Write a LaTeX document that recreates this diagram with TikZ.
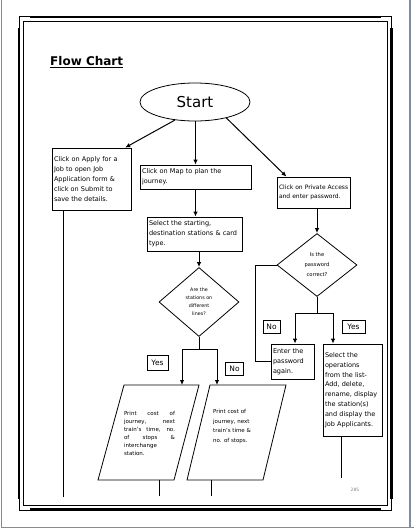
\documentclass[tikz,border=0pt]{standalone}
\usepackage{fontspec}
\setmainfont{DejaVu Sans}
\usetikzlibrary{shapes.geometric,arrows.meta,positioning}

\begin{document}
\begin{tikzpicture}[x=1pt, y=-1pt,
    box/.style={draw, line width=0.8pt, align=left, inner sep=2pt, font=\fontsize{6.5}{9.8}\selectfont},
    decision/.style={draw, diamond, line width=0.8pt, inner sep=0pt, align=center},
    iotext/.style={align=left, inner sep=0pt, font=\fontsize{5.5}{8}\selectfont},
    iobox/.style={draw, line width=0.8pt},
    tag/.style={draw, line width=0.8pt, inner sep=1pt, font=\fontsize{7.5}{9}\selectfont},
    arr/.style={line width=1pt, -{Latex[length=5pt,width=4.5pt]}},
    link/.style={line width=1pt}]
    \useasboundingbox (0,0) rectangle (414,529);

    % Screen edges
    \draw[line width=1.5pt, color={rgb,255:red,128;green,140;blue,156}] (1.5,0) -- (1.5,527.5) -- (414,527.5);
    \draw[line width=1.5pt, color={rgb,255:red,128;green,140;blue,156}] (410,0) -- (410,527.5);

    % Page border
    \draw[line width=2.8pt] (30,17) -- (381,17);
    \draw[line width=2.8pt] (30,509.5) -- (381,509.5);
    \draw[line width=2.8pt] (19,28) -- (19,499);
    \draw[line width=2.8pt] (391.5,28) -- (391.5,499);
    \draw[line width=0.6pt] (23.5,21) rectangle (387.5,505);
    \draw[line width=0.6pt] (19.5,28) -- (19.5,16.5) -- (30,16.5);
    \draw[line width=0.6pt] (381,16.5) -- (391,16.5) -- (391,28);
    \draw[line width=0.6pt] (19.5,499) -- (19.5,510) -- (30,510);
    \draw[line width=0.6pt] (381,510) -- (391,510) -- (391,499);

    % Title
    \node[anchor=base west, inner sep=0pt, font=\bfseries\fontsize{12}{14}\selectfont] (title) at (50,66) {\underline{Flow Chart}};

    % Nodes
    \node[ellipse, draw, line width=0.8pt, minimum width=110pt, minimum height=38pt, inner sep=0pt,
        font=\fontsize{15}{18}\selectfont] (start) at (195,102) {Start};

    \node[box, text width=75pt, minimum height=62pt] (apply) at (91.5,179)
        {Click on Apply for a\\Job to open Job\\Application form \&\\click on Submit to\\save the details.};
    \node[box, text width=107pt, minimum height=24pt] (map) at (195.5,177)
        {Click on Map to plan the\\journey.};
    \node[box, text width=91pt, minimum height=34pt] (sel) at (194.5,234)
        {Select the starting,\\destination stations \& card\\type.};
    \node[decision, minimum width=80pt, minimum height=69pt, font=\fontsize{4.8}{8}\selectfont] (lines) at (199,302)
        {Are the\\stations on\\different\\lines?};

    \node[tag, minimum width=21pt, minimum height=15pt] (yes1) at (157.5,362.5) {Yes};
    \node[tag, minimum width=18pt, minimum height=13pt] (no1) at (234.5,368.5) {No};

    % Print outputs
    \draw[iobox] (124,385) coordinate (p1nw) -- (199,385) -- (174,480) coordinate (p1se) -- (98,480) -- cycle;
    \draw[iobox] (210,385) coordinate (p2nw) -- (286,385) -- (263,480) coordinate (p2se) -- (187,480) -- cycle;
    \node[iotext] (print1) at (149.5,433)
        {\makebox[51pt][s]{Print cost of}\\\makebox[51pt][s]{journey, next}\\\makebox[51pt][s]{train's time, no.}\\
         \makebox[51pt][s]{of stops \&}\\interchange\\station.};
    \node[iotext, anchor=north west] (print2) at (213,409)
        {Print cost of\\[1.8pt]journey, next\\[1.8pt]train's time \&\\[1.8pt]no. of stops.};

    \node[box, text width=70pt, inner sep=1.5pt, minimum height=31pt, font=\fontsize{6}{9.5}\selectfont] (pa) at (314,192.5)
        {Click on Private Access\\and enter password.};
    \node[decision, minimum width=80pt, minimum height=63pt, font=\fontsize{5.2}{10}\selectfont] (pwd) at (317,265)
        {Is the\\password\\correct?};

    \node[tag, minimum width=17pt, minimum height=13pt] (no2) at (271.5,326.5) {No};
    \node[tag, minimum width=23pt, minimum height=13pt] (yes2) at (353.5,326.5) {Yes};

    \node[box, text width=39pt, minimum height=35pt] (again) at (292.5,361.5)
        {Enter the\\password\\again.};
    \node[box, text width=55pt, minimum height=92pt] (ops) at (352.5,390)
        {Select the\\operations\\from the list-\\Add, delete,\\rename, display\\the station(s)\\and display the\\Job Applicants.};

    \node[font=\fontsize{4.5}{5}\selectfont, text=gray] (pg) at (355,490) {285};

    % Connectors
    \draw[arr] (start.222) -- (apply.43);
    \draw[arr] (start.south -| map.north) -- (map.north);
    \draw[arr] (start.333) -- (pa.150);
    \draw[arr] (map.south) -- (map.south |- sel.north);
    \draw[arr] (sel.south -| lines.north) -- (lines.north);

    \coordinate (ya) at (182,349);
    \coordinate (na) at (217,349);
    \draw[link] (lines.south) -- (lines.south |- ya);
    \draw[link] (ya) -- (na);
    \draw[arr] (ya) -- (ya |- p1nw);
    \draw[arr] (na) -- (na |- p2nw);

    \draw[arr] (pa.south -| pwd.north) -- (pwd.north);
    \draw[link] (pwd.west) -- ++(-21,0) |- (again.west);
    \coordinate (nb) at (295,313);
    \coordinate (yb) at (333,313);
    \draw[link] (pwd.south) -- (pwd.south |- nb);
    \draw[link] (nb) -- (yb);
    \draw[arr] (nb) -- (nb |- again.north);
    \draw[arr] (yb) -- (yb |- ops.north);

    % Open ends
    \coordinate (end0) at (63,497);
    \coordinate (end1) at (159,496);
    \coordinate (end2) at (211,496);
    \coordinate (end3) at (341,478);
    \draw[link] (end0 |- apply.south) -- (end0);
    \draw[link] (end1 |- p1se) -- (end1);
    \draw[link] (end2 |- p2se) -- (end2);
    \draw[link] (end3 |- ops.south) -- (end3);
\end{tikzpicture}
\end{document}
